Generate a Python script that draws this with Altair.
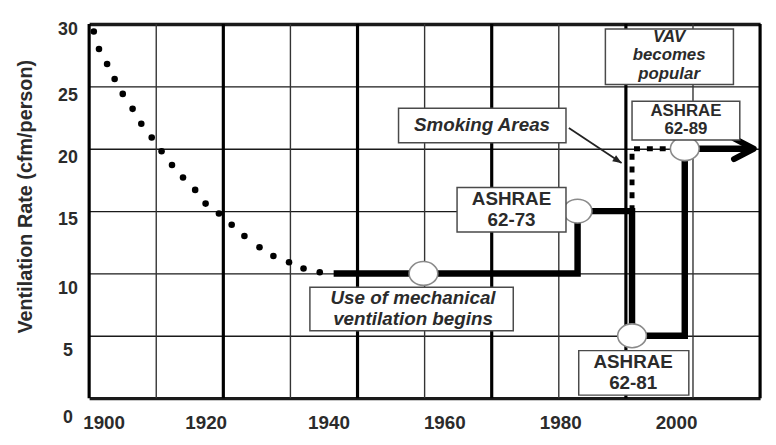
import altair as alt
import pandas as pd

FONT = "Liberation Sans"
INK = "#2b2b2b"

# ---------------- data ----------------
# early (pre-mechanical) recommendations, dotted curve
curve_year = [1899.5, 1900.4, 1901.8, 1903.1, 1904.5, 1906.2, 1907.7, 1909.5, 1911.2,
              1913.0, 1914.9, 1917.0, 1918.8, 1921.1, 1923.3, 1925.5, 1928.1, 1930.5,
              1933.2, 1935.7, 1938.5]
curve_rate = [29.4, 28.0, 26.8, 25.6, 24.4, 23.2, 22.0, 20.9, 19.8,
              18.7, 17.7, 16.7, 15.6, 14.8, 13.9, 13.0, 12.1, 11.4,
              10.9, 10.4, 10.1]

# standard-based rates (thick step line)
std_year = [1940.9, 1983.0, 1983.0, 1992.4, 1992.4, 2001.5, 2001.5, 2013.2]
std_rate = [10, 10, 15, 15, 5, 5, 20, 20]

# smoking areas (dotted)
smoke_year = [1992.4, 1992.4, 2001.5]
smoke_rate = [15, 20, 20]

# milestones (open ellipses)
event_year = [1956.4, 1983.0, 1992.4, 2001.5]
event_rate = [10, 15, 5, 20]

# arrow tip of the current standard
tip_year = [2013.4]
tip_rate = [20]

# pointer from "Smoking Areas" label
pointer_year = [1981.5, 1990.6]
pointer_rate = [21.67, 18.85]

# annotation boxes
box_x1 = [1936.8, 1962.2, 1983.2, 1992.4, 1952.1, 1987.8]
box_x2 = [1971.9, 1981.0, 2002.2, 2011.0, 1981.0, 2009.9]
box_y1 = [8.89, 16.90, 3.81, 23.81, 23.25, 29.60]
box_y2 = [5.40, 13.33, 0.24, 20.71, 20.48, 25.16]

# standards labels (upright)
std_text = ["ASHRAE", "62-73", "ASHRAE", "62-81"]
std_text_year = [1971.6, 1971.6, 1992.6, 1992.6]
std_text_rate = [15.95, 14.29, 2.90, 1.19]
std89_text = ["ASHRAE", "62-89"]
std89_year = [2001.7, 2001.7]
std89_rate = [23.02, 21.59]

# event comments (italic)
note_text = ["Use of mechanical", "ventilation begins", "Smoking Areas"]
note_year = [1954.6, 1954.6, 1966.5]
note_rate = [8.02, 6.35, 21.87]
vav_text = ["VAV", "becomes", "popular"]
vav_year = [1998.8, 1998.8, 1998.8]
vav_rate = [28.97, 27.50, 26.03]

year_ticks = [1900, 1920, 1940, 1960, 1980, 2000]
rate_ticks = [0, 5, 10, 15, 20, 25, 30]
grid_cols = list(range(11))

# ---------------- frames ----------------
curve_df = pd.DataFrame({"year": curve_year, "rate": curve_rate})
std_df = pd.DataFrame({"year": std_year, "rate": std_rate, "idx": range(len(std_year))})
smoke_df = pd.DataFrame({"year": smoke_year, "rate": smoke_rate, "idx": range(len(smoke_year))})
event_df = pd.DataFrame({"year": event_year, "rate": event_rate})
tip_df = pd.DataFrame({"year": tip_year, "rate": tip_rate})
pointer_df = pd.DataFrame({"year": pointer_year, "rate": pointer_rate, "idx": range(2)})
box_df = pd.DataFrame({"x1": box_x1, "x2": box_x2, "y1": box_y1, "y2": box_y2})
std_text_df = pd.DataFrame({"year": std_text_year, "rate": std_text_rate, "label": std_text})
std89_df = pd.DataFrame({"year": std89_year, "rate": std89_rate, "label": std89_text})
note_df = pd.DataFrame({"year": note_year, "rate": note_rate, "label": note_text})
vav_df = pd.DataFrame({"year": vav_year, "rate": vav_rate, "label": vav_text})
grid_df = pd.DataFrame({"col": grid_cols})

xscale = alt.Scale(domain=[1898.7, 2014.5], nice=False, zero=False)
yscale = alt.Scale(domain=[0, 30], nice=False, zero=True)

xaxis = alt.Axis(
    values=year_ticks, format="d", title="", grid=False, ticks=False, domain=False,
    labelPadding=16, labelFont=FONT, labelFontSize=19, labelFontWeight="bold",
    labelColor=INK,
    labelOffset={"condition": [{"test": "datum.value == 1900", "value": 7},
                               {"test": "datum.value == 1920", "value": -7}],
                 "value": 0},
)
yaxis = alt.Axis(
    values=rate_ticks, title="Ventilation Rate (cfm/person)", grid=True, ticks=False,
    domain=False, labelAlign="center", labelPadding=22, labelFont=FONT,
    labelFontSize=18, labelFontWeight="bold", labelColor=INK,
    labelOffset={"condition": [{"test": "datum.value == 0", "value": 20},
                               {"test": "datum.value == 30", "value": 6},
                               {"test": "datum.value <= 10", "value": 15}],
                 "value": 9},
    gridColor="#1a1a1a",
    gridWidth={"condition": {"test": "datum.value == 0 || datum.value == 30", "value": 3.5},
               "value": 1.4},
    titleFont=FONT, titleFontSize=20, titleFontWeight="bold", titleColor=INK,
    titleX=-64, titleY=174, titleAngle=270, titleAlign="center", titleBaseline="middle",
)

X = alt.X("year:Q", scale=xscale, axis=xaxis)
Y = alt.Y("rate:Q", scale=yscale, axis=yaxis)

grid = alt.Chart(grid_df).mark_rule().encode(
    x=alt.X("col:Q", scale=alt.Scale(domain=[0, 10], nice=False, zero=False), axis=None),
    strokeWidth=alt.condition("datum.col % 2 == 0", alt.value(3.2), alt.value(1.4)),
    color=alt.condition("datum.col % 2 == 0", alt.value("#000000"), alt.value("#333333")),
)

dots = alt.Chart(curve_df).mark_circle(size=44, color="black", opacity=1).encode(x=X, y=Y)

smoke = alt.Chart(smoke_df).mark_line(
    color="black", strokeWidth=5, strokeDash=[6, 7], strokeCap="butt"
).encode(x=X, y=Y, order="idx:Q")

std = alt.Chart(std_df).mark_line(
    color="black", strokeWidth=6.5, strokeJoin="miter", strokeCap="butt"
).encode(x=X, y=Y, order="idx:Q")

chevron = alt.Chart(tip_df).mark_point(
    shape="M -1.9 -1 L 0 0 L -1.9 1", filled=False, size=441, strokeWidth=6,
    color="black", opacity=1, strokeJoin="round", strokeCap="round",
).encode(x=X, y=Y)

pointer = alt.Chart(pointer_df).mark_line(color="#222222", strokeWidth=1.8).encode(
    x=X, y=Y, order="idx:Q")
pointer_head = alt.Chart(pointer_df).transform_filter("datum.idx == 1").mark_point(
    shape="M 0 0 L -2 -0.8 L -2 0.8 Z", filled=True, size=81, angle=33,
    color="#222222", opacity=1,
).encode(x=X, y=Y)

ELLIPSE = ("M -1 0 C -1 -0.458 -0.552 -0.83 0 -0.83 C 0.552 -0.83 1 -0.458 1 0 "
           "C 1 0.458 0.552 0.83 0 0.83 C -0.552 0.83 -1 0.458 -1 0 Z")
events = alt.Chart(event_df).mark_point(
    shape=ELLIPSE, size=841, filled=True, fill="white", stroke="#8a8a8a",
    strokeWidth=1.6, opacity=1,
).encode(x=X, y=Y)

boxes = alt.Chart(box_df).mark_rect(fill="white", stroke="#4a4a4a", strokeWidth=1.5).encode(
    x=alt.X("x1:Q", scale=xscale, axis=xaxis), x2="x2:Q",
    y=alt.Y("y1:Q", scale=yscale, axis=yaxis), y2="y2:Q",
)


def upright(df, size):
    return alt.Chart(df).mark_text(
        font=FONT, fontSize=size, fontWeight="bold", color=INK, align="center",
        baseline="middle"
    ).encode(x=X, y=Y, text="label:N")


def italic(df, size):
    return alt.Chart(df).mark_text(
        font=FONT, fontSize=size, fontWeight="bold", fontStyle="italic", color=INK,
        align="center", baseline="middle"
    ).encode(x=X, y=Y, text="label:N")


data_layers = alt.layer(dots, smoke, std, chevron, pointer, pointer_head, events,
                        boxes, upright(std_text_df, 19), upright(std89_df, 17),
                        italic(note_df, 19), italic(vav_df, 17))

chart = alt.layer(grid, data_layers).resolve_scale(x="independent").properties(
    width=678, height=378,
    padding={"left": 82, "top": 14, "right": 8, "bottom": 32},
    autosize=alt.AutoSizeParams(type="none"),
    background="white",
).configure_view(strokeWidth=0)

chart.save("out.html", embed_options={"renderer": "svg", "actions": False})
